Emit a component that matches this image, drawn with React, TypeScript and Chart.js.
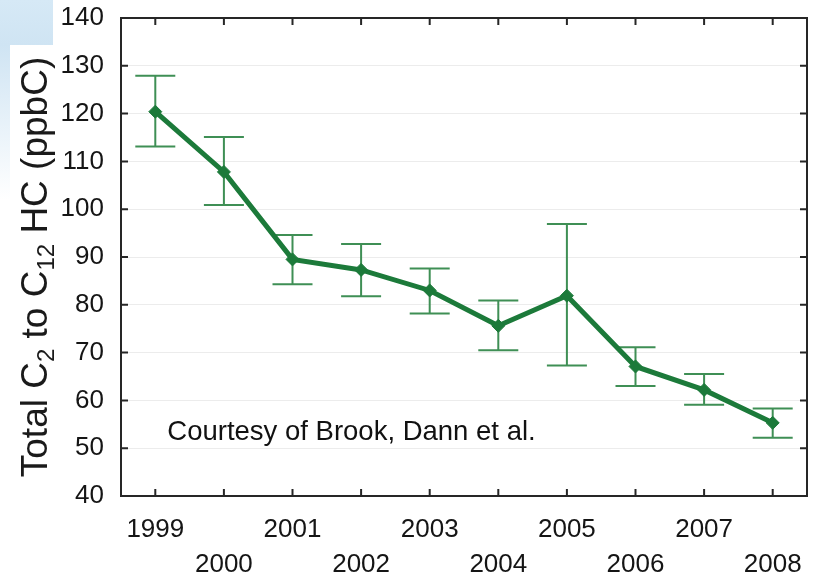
import React, { useEffect, useRef } from "react";
import { Chart, registerables } from "chart.js";

Chart.register(...registerables);

const years = ["1999", "2000", "2001", "2002", "2003", "2004", "2005", "2006", "2007", "2008"];
const means = [120.4, 107.8, 89.5, 87.3, 83.0, 75.6, 81.9, 67.1, 62.2, 55.3];
const upper = [127.9, 115.1, 94.6, 92.7, 87.6, 80.9, 96.9, 71.1, 65.5, 58.3];
const lower = [113.1, 100.9, 84.3, 81.8, 78.2, 70.5, 67.3, 63.0, 59.1, 52.2];
const yMin = 40;
const yMax = 140;
const yStep = 10;
const titleParts = [
  { t: "Total C", sub: false },
  { t: "2", sub: true },
  { t: " to C", sub: false },
  { t: "12", sub: true },
  { t: " HC (ppbC)", sub: false },
];
const note = "Courtesy of Brook, Dann et al.";

const FONT = "'Liberation Sans', Arial, Helvetica, sans-serif";
const LINE = "#1c7a3a";
const ERR = "#3f8f55";
const FRAME = "#262626";

export default function App() {
  const ref = useRef<HTMLCanvasElement | null>(null);

  useEffect(() => {
    const canvas = ref.current;
    if (!canvas) return;

    const decor = {
      id: "decor",
      beforeDraw(chart: any) {
        const ctx = chart.ctx;
        ctx.save();
        ctx.fillStyle = "#ffffff";
        ctx.fillRect(0, 0, chart.width, chart.height);
        const g = ctx.createLinearGradient(0, 0, 0, 45);
        g.addColorStop(0, "#d6e9f6");
        g.addColorStop(1, "#cfe4f3");
        ctx.fillStyle = g;
        ctx.fillRect(0, 0, 53, 45);
        const g2 = ctx.createLinearGradient(0, 45, 0, 200);
        g2.addColorStop(0, "rgba(207,228,243,1)");
        g2.addColorStop(1, "rgba(207,228,243,0)");
        ctx.fillStyle = g2;
        ctx.fillRect(0, 45, 10, 155);
        ctx.restore();
      },
      beforeDatasetsDraw(chart: any) {
        const ctx = chart.ctx;
        const xs = chart.scales.x;
        const ys = chart.scales.y;
        ctx.save();
        ctx.strokeStyle = ERR;
        ctx.lineWidth = 2;
        for (let i = 0; i < years.length; i++) {
          const x = xs.getPixelForValue(i);
          const yt = ys.getPixelForValue(upper[i]);
          const yb = ys.getPixelForValue(lower[i]);
          ctx.beginPath();
          ctx.moveTo(x, yt);
          ctx.lineTo(x, yb);
          ctx.moveTo(x - 20, yt);
          ctx.lineTo(x + 20, yt);
          ctx.moveTo(x - 20, yb);
          ctx.lineTo(x + 20, yb);
          ctx.stroke();
        }
        ctx.restore();
      },
      afterDraw(chart: any) {
        const ctx = chart.ctx;
        const a = chart.chartArea;
        const xs = chart.scales.x;
        const ys = chart.scales.y;
        ctx.save();
        // frame
        ctx.strokeStyle = FRAME;
        ctx.lineWidth = 2;
        ctx.strokeRect(a.left, a.top, a.right - a.left, a.bottom - a.top);
        // inward ticks
        ctx.beginPath();
        const tl = 7;
        for (let i = 0; i < years.length; i++) {
          const x = xs.getPixelForValue(i);
          ctx.moveTo(x, a.bottom);
          ctx.lineTo(x, a.bottom - tl);
          ctx.moveTo(x, a.top);
          ctx.lineTo(x, a.top + tl);
        }
        for (let v = yMin + yStep; v < yMax; v += yStep) {
          const y = ys.getPixelForValue(v);
          ctx.moveTo(a.left, y);
          ctx.lineTo(a.left + tl, y);
          ctx.moveTo(a.right, y);
          ctx.lineTo(a.right - tl, y);
        }
        ctx.stroke();

        // annotation
        ctx.fillStyle = "#111111";
        ctx.font = `27.5px ${FONT}`;
        ctx.textAlign = "left";
        ctx.textBaseline = "middle";
        const nx = xs.getPixelForValue(0) + 12;
        const ny = ys.getPixelForValue(53.2);
        ctx.fillText(note, nx, ny);

        // y title with subscripts
        const mainFont = `37px ${FONT}`;
        const subFont = `24px ${FONT}`;
        let total = 0;
        const widths: number[] = [];
        for (const p of titleParts) {
          ctx.font = p.sub ? subFont : mainFont;
          const w = ctx.measureText(p.t).width;
          widths.push(w);
          total += w;
        }
        ctx.translate(47, (a.top + a.bottom) / 2 + 10);
        ctx.rotate(-Math.PI / 2);
        ctx.textAlign = "left";
        ctx.textBaseline = "alphabetic";
        ctx.fillStyle = "#1a1a1a";
        let cx = -total / 2;
        titleParts.forEach((p, i) => {
          ctx.font = p.sub ? subFont : mainFont;
          ctx.fillText(p.t, cx, p.sub ? 7 : 0);
          cx += widths[i];
        });
        ctx.restore();
      },
    };

    const chart = new Chart(canvas, {
      type: "line",
      data: {
        labels: years,
        datasets: [
          {
            data: means,
            borderColor: LINE,
            backgroundColor: LINE,
            borderWidth: 5,
            pointStyle: "rectRot",
            pointRadius: 6.5,
            pointBackgroundColor: LINE,
            pointBorderColor: LINE,
            pointBorderWidth: 1,
            tension: 0,
            fill: false,
          },
        ],
      },
      options: {
        responsive: false,
        animation: false,
        events: [],
        layout: { padding: { top: 18, right: 14, left: 0, bottom: 0 } },
        plugins: {
          legend: { display: false },
          tooltip: { enabled: false },
          title: { display: false },
        },
        scales: {
          x: {
            type: "category",
            offset: true,
            border: { display: false },
            grid: { display: false, drawTicks: false },
            ticks: {
              autoSkip: false,
              maxRotation: 0,
              minRotation: 0,
              padding: 16,
              color: "#151515",
              font: { family: FONT, size: 26, lineHeight: 35 / 26 },
              callback: (_v: any, i: number) => (i % 2 === 0 ? [years[i], ""] : ["", years[i]]),
            },
            afterFit: (s: any) => {
              s.height = 88;
              s.paddingLeft = 0;
              s.paddingRight = 0;
            },
          },
          y: {
            min: yMin,
            max: yMax,
            border: { display: false },
            grid: { color: "#ececec", lineWidth: 1, drawTicks: false },
            ticks: {
              stepSize: yStep,
              padding: 17,
              color: "#151515",
              font: { family: FONT, size: 26 },
            },
            afterFit: (s: any) => {
              s.width = 121;
              s.paddingTop = 0;
              s.paddingBottom = 0;
            },
          },
        },
      },
      plugins: [decor],
    });

    return () => chart.destroy();
  }, []);

  return (
    <div style={{ position: "absolute", left: 0, top: 0, width: 821, height: 584, background: "#fff" }}>
      <canvas ref={ref} width={821} height={584} style={{ display: "block" }} />
    </div>
  );
}
